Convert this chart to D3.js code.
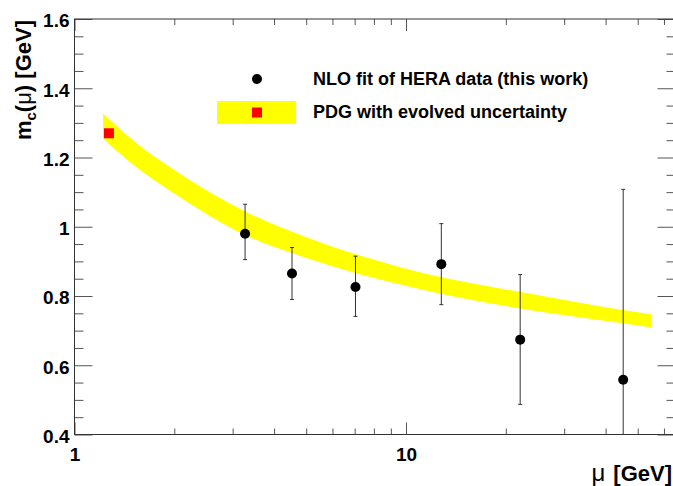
<!DOCTYPE html>
<html>
<head>
<meta charset="utf-8">
<script src="https://cdn.jsdelivr.net/npm/d3@7"></script>
<style>
  body { margin: 0; background: #fff; }
  text { font-family: "Liberation Sans", Arial, Helvetica, sans-serif; }
</style>
</head>
<body>
<script>
var width = 673;
var height = 486;
var frame = {left: 74.5, top: 19, right: 675.5, bottom: 434.5};

// HERA fit points (mu in GeV, m_c in GeV, errors)
var fitMu  = [3.27, 4.53, 7.04, 12.78, 22.1, 45.2];
var fitMc  = [0.980, 0.865, 0.826, 0.892, 0.674, 0.558];
var fitUp  = [1.065, 0.940, 0.915, 1.009, 0.862, 1.108];
var fitLow = [0.905, 0.790, 0.741, 0.775, 0.487, 0.008];

// PDG value and evolved band
var pdgMu = 1.27, pdgMc = 1.27;
var bandMu = [1.22, 1.5, 2, 3.27, 5, 9.62, 27.3, 38.7, 55];
var bandHi = [1.327, 1.250, 1.164, 1.044, 0.970, 0.883, 0.796, 0.770, 0.747];
var bandLo = [1.255, 1.180, 1.096, 0.976, 0.910, 0.833, 0.750, 0.730, 0.709];

var xMajor = [1, 10];
var xMinor = [2, 3, 4, 5, 6, 7, 8, 9, 20, 30, 40, 50, 60];
var yMajor = [0.4, 0.6, 0.8, 1.0, 1.2, 1.4, 1.6];
var yLabels = ["0.4", "0.6", "0.8", "1", "1.2", "1.4", "1.6"];
var yMinor = d3.range(0.45, 1.6, 0.05).filter(v => Math.abs(v / 0.2 - Math.round(v / 0.2)) > 0.01);

var legendItems = ["NLO fit of HERA data (this work)", "PDG with evolved uncertainty"];

var svg = d3.select("body")
  .append("svg")
  .attr("width", width)
  .attr("height", height);

var x = d3.scaleLog().domain([1, 65]).range([frame.left, frame.right]);
var y = d3.scaleLinear().domain([0.4, 1.6]).range([frame.bottom, frame.top]);

svg.append("clipPath").attr("id", "clip")
  .append("rect")
  .attr("x", frame.left).attr("y", frame.top)
  .attr("width", frame.right - frame.left)
  .attr("height", frame.bottom - frame.top);

var plot = svg.append("g").attr("clip-path", "url(#clip)");

// band
var band = bandMu.map((m, i) => ({mu: m, hi: bandHi[i], lo: bandLo[i]}));
plot.append("path")
  .datum(band)
  .attr("fill", "#ffff00")
  .attr("d", d3.area()
    .curve(d3.curveMonotoneX)
    .x(d => x(d.mu))
    .y0(d => y(d.lo))
    .y1(d => y(d.hi)));

// pdg square
plot.append("rect")
  .attr("x", x(pdgMu) - 5).attr("y", y(pdgMc) - 5)
  .attr("width", 10).attr("height", 10)
  .attr("fill", "#ff0000");

// error bars + points
var pts = fitMu.map((m, i) => ({mu: m, mc: fitMc[i], up: fitUp[i], low: fitLow[i]}));
var pg = plot.append("g").selectAll("g").data(pts).enter().append("g");
pg.append("line")
  .attr("x1", d => x(d.mu)).attr("x2", d => x(d.mu))
  .attr("y1", d => y(d.up)).attr("y2", d => y(d.low))
  .attr("stroke", "#333").attr("stroke-width", 1);
pg.append("line")
  .attr("x1", d => x(d.mu) - 2).attr("x2", d => x(d.mu) + 2)
  .attr("y1", d => y(d.up)).attr("y2", d => y(d.up))
  .attr("stroke", "#333");
pg.append("line")
  .attr("x1", d => x(d.mu) - 2).attr("x2", d => x(d.mu) + 2)
  .attr("y1", d => y(d.low)).attr("y2", d => y(d.low))
  .attr("stroke", "#333");
pg.append("circle")
  .attr("cx", d => x(d.mu)).attr("cy", d => y(d.mc))
  .attr("r", 5).attr("fill", "#000");

// axes
var tickCol = "#555";
function styleAxis(g) {
  g.select(".domain").remove();
  g.selectAll(".tick line").attr("stroke", tickCol);
  g.selectAll("text")
    .attr("font-size", 19).attr("font-weight", "bold").attr("fill", "#000");
}

svg.append("g").attr("transform", "translate(0," + frame.bottom + ")")
  .call(d3.axisBottom(x).tickValues(xMinor).tickSizeInner(-6).tickSizeOuter(0).tickFormat(""))
  .call(styleAxis);
svg.append("g").attr("transform", "translate(0," + frame.bottom + ")")
  .call(d3.axisBottom(x).tickValues(xMajor).tickSizeInner(-12).tickSizeOuter(0)
    .tickPadding(13).tickFormat(d3.format("d")))
  .call(styleAxis);
svg.append("g").attr("transform", "translate(0," + frame.top + ")")
  .call(d3.axisTop(x).tickValues(xMinor).tickSizeInner(-6).tickSizeOuter(0).tickFormat(""))
  .call(styleAxis);
svg.append("g").attr("transform", "translate(0," + frame.top + ")")
  .call(d3.axisTop(x).tickValues(xMajor).tickSizeInner(-12).tickSizeOuter(0).tickFormat(""))
  .call(styleAxis);

svg.append("g").attr("transform", "translate(" + frame.left + ",0)")
  .call(d3.axisLeft(y).tickValues(yMinor).tickSizeInner(-9).tickSizeOuter(0).tickFormat(""))
  .call(styleAxis);
svg.append("g").attr("transform", "translate(" + frame.left + ",0)")
  .call(d3.axisLeft(y).tickValues(yMajor).tickSizeInner(-18).tickSizeOuter(0)
    .tickPadding(5).tickFormat((d, i) => yLabels[i]))
  .call(styleAxis)
  .selectAll("text").attr("dy", "0.42em");
svg.append("g").attr("transform", "translate(" + frame.right + ",0)")
  .call(d3.axisRight(y).tickValues(yMinor).tickSizeInner(-9).tickSizeOuter(0).tickFormat(""))
  .call(styleAxis);
svg.append("g").attr("transform", "translate(" + frame.right + ",0)")
  .call(d3.axisRight(y).tickValues(yMajor).tickSizeInner(-18).tickSizeOuter(0).tickFormat(""))
  .call(styleAxis);

// frame
svg.append("rect")
  .attr("x", frame.left).attr("y", frame.top)
  .attr("width", frame.right - frame.left)
  .attr("height", frame.bottom - frame.top)
  .attr("fill", "none").attr("stroke", "#333").attr("stroke-width", 1);

// legend
var leg = svg.append("g");
leg.append("circle").attr("cx", 257).attr("cy", 79).attr("r", 5).attr("fill", "#000");
leg.append("rect").attr("x", 217).attr("y", 101).attr("width", 79).attr("height", 23).attr("fill", "#ffff00");
leg.append("rect").attr("x", 252).attr("y", 107.5).attr("width", 10).attr("height", 10).attr("fill", "#ff0000");
leg.selectAll("text.leg").data(legendItems).enter().append("text")
  .attr("class", "leg")
  .attr("x", 313).attr("y", (d, i) => 85 + i * 33)
  .attr("font-size", 18).attr("font-weight", "bold")
  .text(d => d);

// y title
var yt = svg.append("text")
  .attr("transform", "translate(31,20) rotate(-90)")
  .attr("text-anchor", "end")
  .attr("font-size", 22).attr("font-weight", "bold");
yt.append("tspan").text("m");
yt.append("tspan").attr("font-size", 15).attr("dy", 5).text("c");
yt.append("tspan").attr("dy", -5).text("(");
yt.append("tspan").attr("font-weight", "normal").text("\u03bc");
yt.append("tspan").text(") [GeV]");

// x title
var xt = svg.append("text")
  .attr("x", 672).attr("y", 481)
  .attr("text-anchor", "end")
  .attr("font-size", 22).attr("font-weight", "bold");
xt.append("tspan").attr("font-weight", "normal").attr("font-size", 24).text("\u03bc");
xt.append("tspan").attr("dx", 2).text(" [GeV]");
</script>
</body>
</html>
